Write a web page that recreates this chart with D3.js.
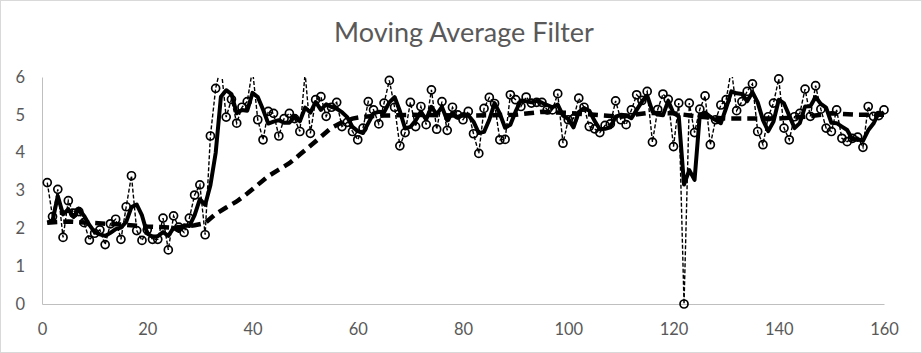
<!DOCTYPE html>
<html>
<head>
<meta charset="utf-8">
<script src="https://cdn.jsdelivr.net/npm/d3@7"></script>
<style>
  body { margin: 0; background: #fff; }
</style>
</head>
<body>
<div id="chart"></div>
<script>
const chartTitle = 'Moving Average Filter';
const xTicks = [0, 20, 40, 60, 80, 100, 120, 140, 160];
const yTicks = [0, 1, 2, 3, 4, 5, 6];

// raw samples, x = 1..160
const signal = [
  3.21, 2.31, 3.03, 1.76, 2.73, 2.40, 2.44, 2.15, 1.69, 1.87,
  1.96, 1.57, 2.12, 2.24, 1.71, 2.57, 3.39, 1.94, 1.68, 1.96,
  1.71, 1.71, 2.27, 1.43, 2.33, 2.03, 1.89, 2.27, 2.88, 3.15,
  1.83, 4.44, 5.70, 6.30, 4.94, 5.41, 4.78, 5.20, 5.35, 6.20,
  4.87, 4.34, 5.09, 5.04, 4.44, 4.90, 5.04, 4.90, 4.56, 6.10,
  4.51, 5.40, 5.48, 4.96, 5.20, 5.33, 4.69, 4.80, 4.56, 4.34,
  4.65, 5.35, 5.13, 4.76, 5.31, 5.91, 5.20, 4.18, 4.53, 5.33,
  4.69, 5.22, 4.74, 5.66, 4.62, 5.35, 4.59, 5.20, 5.00, 4.87,
  5.09, 4.50, 3.98, 5.17, 5.46, 5.30, 4.34, 4.35, 5.53, 5.40,
  5.22, 5.47, 5.31, 5.33, 5.33, 5.13, 5.13, 5.56, 4.25, 4.87,
  4.90, 5.44, 5.20, 4.69, 4.63, 4.53, 4.72, 4.76, 5.37, 4.87,
  4.74, 5.13, 5.53, 5.38, 5.62, 4.28, 5.14, 5.55, 5.41, 4.16,
  5.31, 0.00, 5.31, 4.53, 5.15, 5.50, 4.21, 4.87, 5.26, 5.40,
  6.20, 5.11, 5.35, 5.62, 5.82, 4.56, 4.21, 4.95, 5.31, 5.95,
  4.65, 4.34, 4.95, 5.04, 5.68, 4.96, 5.77, 5.15, 4.65, 4.56,
  5.13, 4.38, 4.29, 4.38, 4.41, 4.14, 5.22, 4.96, 4.98, 5.13
];

// short moving average (solid line), x = 1..160
const shortAvg = [
  2.15, 2.20, 2.85, 2.37, 2.51, 2.30, 2.52, 2.33, 2.09, 1.90,
  1.84, 1.80, 1.88, 1.98, 2.02, 2.17, 2.56, 2.63, 2.34, 1.86,
  1.78, 1.79, 1.90, 1.80, 2.01, 1.93, 2.08, 2.06, 2.35, 2.77,
  2.62, 3.14, 3.99, 5.48, 5.65, 5.55, 5.04, 5.13, 5.11, 5.58,
  5.47, 5.14, 4.77, 4.82, 4.86, 4.79, 4.79, 4.95, 4.83, 5.19,
  5.06, 5.34, 5.13, 5.28, 5.21, 5.16, 5.07, 4.94, 4.68, 4.57,
  4.52, 4.78, 5.04, 5.08, 5.07, 5.33, 5.47, 5.10, 4.64, 4.68,
  4.85, 5.08, 4.88, 5.21, 5.01, 5.21, 4.85, 5.05, 4.93, 5.02,
  4.99, 4.82, 4.52, 4.55, 4.87, 5.31, 5.03, 4.66, 4.74, 5.09,
  5.38, 5.36, 5.33, 5.37, 5.32, 5.26, 5.20, 5.27, 4.98, 4.89,
  4.67, 5.07, 5.18, 5.11, 4.84, 4.62, 4.63, 4.67, 4.95, 5.00,
  4.99, 4.91, 5.13, 5.35, 5.51, 5.09, 5.01, 4.99, 5.37, 5.04,
  4.96, 3.16, 3.54, 3.28, 5.00, 5.06, 4.95, 4.86, 4.78, 5.18,
  5.62, 5.57, 5.55, 5.36, 5.60, 5.33, 4.86, 4.57, 4.82, 5.40,
  5.30, 4.98, 4.65, 4.78, 5.22, 5.23, 5.47, 5.29, 5.19, 4.79,
  4.78, 4.69, 4.60, 4.35, 4.36, 4.31, 4.59, 4.77, 5.05, 5.02
];

// long moving average (thick dashed line), read at these x
const longAvgX = [1, 5, 10, 15, 20, 25, 27, 29, 31, 33, 35, 37, 39, 41, 43, 45, 47, 49,
  51, 53, 55, 57, 59, 61, 65, 70, 80, 90, 95, 100, 110, 115, 120, 125, 130, 135,
  140, 145, 150, 155, 160];
const longAvg = [2.15, 2.18, 2.14, 2.10, 2.05, 2.02, 2.04, 2.08, 2.14, 2.38, 2.55, 2.71, 2.92,
  3.15, 3.38, 3.55, 3.72, 3.95, 4.18, 4.42, 4.66, 4.80, 4.90, 4.95, 4.98, 5.00, 4.98,
  5.00, 5.08, 5.05, 4.95, 5.05, 5.04, 4.95, 4.90, 4.90, 4.90, 4.95, 5.04, 5.00, 5.00];

const W = 922, H = 353;
const FONT = 'Lato, "Liberation Sans", sans-serif';
const TEXT_COLOR = '#595959';

function renderChart(parent) {
  const x = d3.scaleLinear().domain([0, 160]).range([42, 884]);
  const y = d3.scaleLinear().domain([0, 6]).range([304, 77]);

  const svg = d3.select(parent)
    .append('svg')
    .attr('xmlns', 'http://www.w3.org/2000/svg')
    .attr('width', W)
    .attr('height', H);

  svg.append('rect')
    .attr('x', 0.5)
    .attr('y', 0.5)
    .attr('width', W - 1)
    .attr('height', H - 1)
    .attr('fill', '#fff')
    .attr('stroke', '#d9d9d9');

  svg.append('text')
    .attr('x', 464)
    .attr('y', 42)
    .attr('text-anchor', 'middle')
    .attr('font-family', FONT)
    .attr('font-size', 27)
    .attr('fill', TEXT_COLOR)
    .text(chartTitle);

  // values above 6 are cut at the top of the plot area
  svg.append('clipPath')
    .attr('id', 'plot-clip')
    .append('rect')
    .attr('x', 0)
    .attr('y', y(6))
    .attr('width', W)
    .attr('height', H - y(6));

  const xAxis = svg.append('g')
    .attr('transform', `translate(0,${y(0)})`)
    .call(d3.axisBottom(x).tickValues(xTicks).tickSize(0).tickPadding(19)
      .tickFormat(d3.format('d')));

  const yAxis = svg.append('g')
    .attr('transform', `translate(${x(0)},0)`)
    .call(d3.axisLeft(y).tickValues(yTicks).tickSize(0).tickPadding(17)
      .tickFormat(d3.format('d')));

  [xAxis, yAxis].forEach(axis => {
    axis.select('.domain').attr('stroke', '#bfbfbf').attr('stroke-width', 1);
    axis.selectAll('text')
      .attr('font-family', FONT)
      .attr('font-size', 16.5)
      .attr('fill', TEXT_COLOR);
  });

  const lines = svg.append('g').attr('clip-path', 'url(#plot-clip)');

  const rawPts = signal.map((v, i) => [i + 1, v]);
  const shortPts = shortAvg.map((v, i) => [i + 1, v]);
  const longPts = longAvg.map((v, i) => [longAvgX[i], v]);

  const line = d3.line()
    .x(d => x(d[0]))
    .y(d => y(d[1]));

  lines.append('path')
    .datum(longPts)
    .attr('d', line)
    .attr('fill', 'none')
    .attr('stroke', '#000')
    .attr('stroke-width', 4.5)
    .attr('stroke-dasharray', '10,6');

  lines.append('path')
    .datum(shortPts)
    .attr('d', line)
    .attr('fill', 'none')
    .attr('stroke', '#000')
    .attr('stroke-width', 4)
    .attr('stroke-linejoin', 'round');

  lines.append('path')
    .datum(rawPts)
    .attr('d', line)
    .attr('fill', 'none')
    .attr('stroke', '#000')
    .attr('stroke-width', 1.4)
    .attr('stroke-dasharray', '4,2');

  svg.append('g')
    .selectAll('circle')
    .data(rawPts.filter(d => d[1] <= 6))
    .join('circle')
    .attr('cx', d => x(d[0]))
    .attr('cy', d => y(d[1]))
    .attr('r', 4)
    .attr('fill', 'none')
    .attr('stroke', '#000')
    .attr('stroke-width', 1.7);
}

renderChart('#chart');
</script>
</body>
</html>
